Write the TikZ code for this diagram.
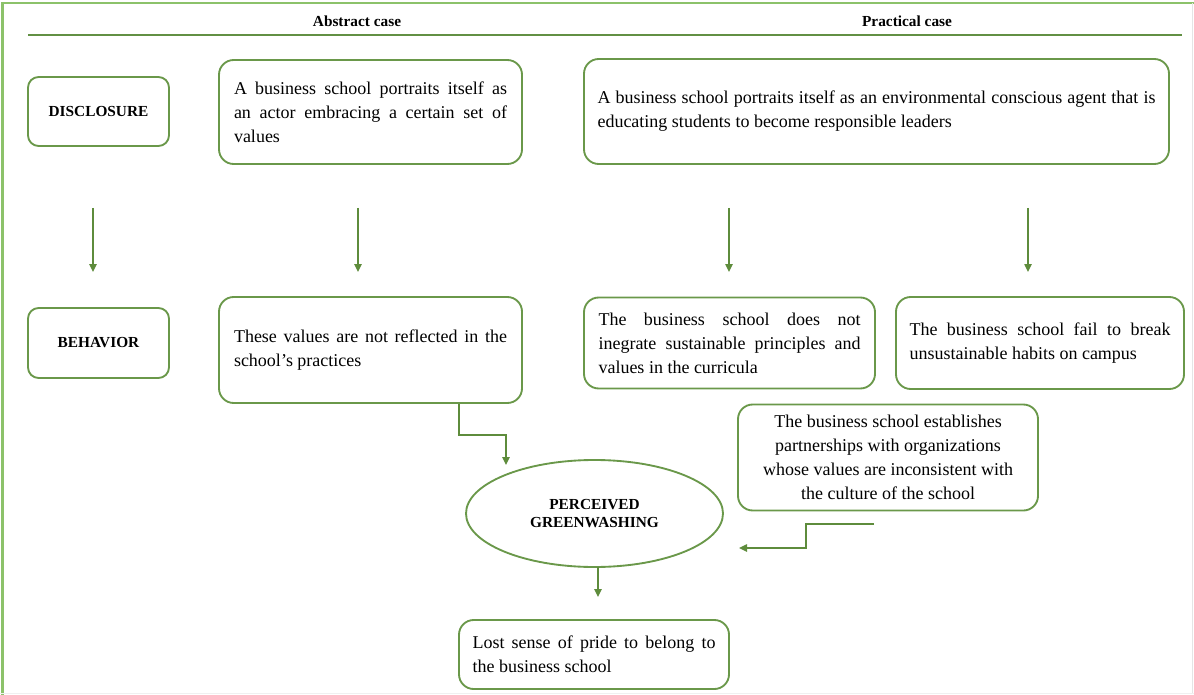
\documentclass[tikz,border=0pt]{standalone}
\usepackage{fontspec}
\setmainfont{Liberation Serif}
\usetikzlibrary{arrows.meta,shapes.geometric}
\definecolor{boxgreen}{RGB}{106,152,74}
\definecolor{arrgreen}{RGB}{94,140,60}
\definecolor{framegreen}{RGB}{140,194,106}
\definecolor{linegreen}{RGB}{98,144,68}
\tikzset{
  txt/.style={font=\fontsize{13.5}{18}\selectfont},
  lbl/.style={font=\fontsize{11.5}{13.5}\selectfont\bfseries},
  rbox/.style={draw=boxgreen, line width=1.4pt, rounded corners=11pt, inner sep=0pt, txt},
  sbox/.style={draw=boxgreen, line width=1.4pt, rounded corners=8pt, inner sep=0pt, lbl},
  jbox/.style={rbox, align=justify},
  arr/.style={draw=arrgreen, line width=1.1pt, -{Triangle[width=5.5pt,length=6pt]}, color=arrgreen}
}
\begin{document}
\begin{tikzpicture}[x=0.75pt,y=-0.75pt]
\useasboundingbox (0,0) rectangle (1194,695);
% frame
\draw[framegreen, line width=2.2pt] (2.5,695) -- (2.5,3) -- (1194,3);
\draw[black!10, line width=0.8pt] (1192.5,3) -- (1192.5,694);
\draw[black!6, line width=0.8pt] (0,693.5) -- (1194,693.5);
% header
\node[lbl] (habs) at (357,21) {Abstract case};
\node[lbl] (hprac) at (907,21) {Practical case};
\draw[linegreen, line width=1.5pt] (28,35) -- (1182,35);
% row 1
\node[sbox, minimum width=105.75pt, minimum height=51.75pt] (disc) at (98.5,111.5) {DISCLOSURE};
\node[jbox, minimum width=227.25pt, minimum height=78pt, text width=204.75pt] (absd) at (370.5,112)
  {A business school portraits itself as\linebreak an actor embracing a certain set of\linebreak values};
\node[jbox, minimum width=438.75pt, minimum height=78.75pt, text width=418.5pt] (pracd) at (876.5,111.5)
  {A business school portraits itself as an environmental conscious agent that is\linebreak educating students to become responsible leaders};
% row 2
\node[sbox, minimum width=105.75pt, minimum height=52.5pt] (beh) at (98.5,343) {BEHAVIOR};
\node[jbox, minimum width=227.25pt, minimum height=79.5pt, text width=204.75pt] (absb) at (370.5,350)
  {These values are not reflected in the\linebreak school's practices};
\node[jbox, minimum width=218.25pt, minimum height=68.25pt, text width=196.5pt] (pb1) at (729.5,343)
  {The business school does not\linebreak inegrate sustainable principles and\linebreak values in the curricula};
\node[jbox, minimum width=216pt, minimum height=69pt, text width=195.75pt] (pb2) at (1040,343)
  {The business school fail to break\linebreak unsustainable habits on campus};
\node[rbox, minimum width=225pt, minimum height=79.5pt, align=center] (part) at (888,457.5)
  {The business school establishes\\partnerships with organizations\\whose values are inconsistent with\\the culture of the school};
% greenwashing
\node[draw=boxgreen, line width=1.4pt, ellipse, minimum width=192.75pt, minimum height=80.25pt, inner sep=0pt, lbl, align=center] (pg) at (594.5,513.5)
  {PERCEIVED\\GREENWASHING};
\node[jbox, minimum width=202.5pt, minimum height=51.75pt, text width=182.25pt] (lost) at (594,654.5)
  {Lost sense of pride to belong to\linebreak the business school};
% arrow coordinates
\coordinate (a1s) at (93,208);  \coordinate (a1e) at (93,272);
\coordinate (a2s) at (358,208); \coordinate (a2e) at (358,272);
\coordinate (a3s) at (729,208); \coordinate (a3e) at (729,272);
\coordinate (a4s) at (1028,208); \coordinate (a4e) at (1028,272);
\draw[arr] (a1s) -- (a1e);
\draw[arr] (a2s) -- (a2e);
\draw[arr] (a3s) -- (a3e);
\draw[arr] (a4s) -- (a4e);
\coordinate (e1s) at (459,403.5);
\coordinate (e1e) at (506,465);
\draw[arr] (e1s) -- (459,435) -| (e1e);
\coordinate (e2s) at (874,524);
\coordinate (e2e) at (739,548);
\draw[arr] (e2s) -- (806,524) |- (e2e);
\coordinate (pgs) at (598,567);
\coordinate (pge) at (598,597);
\draw[arr] (pgs) -- (pge);
\end{tikzpicture}
\end{document}
